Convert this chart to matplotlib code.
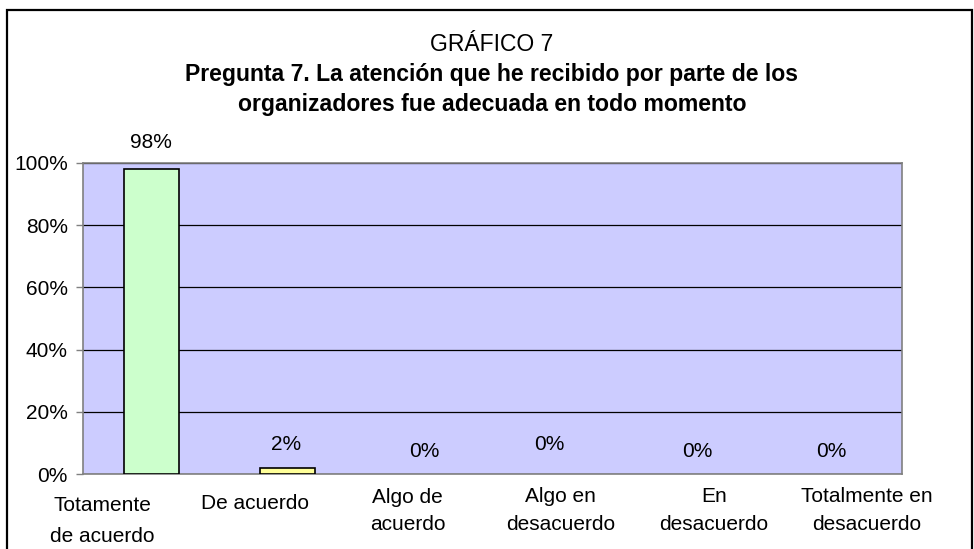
import matplotlib.pyplot as plt
from matplotlib.patches import Rectangle
from matplotlib.ticker import FuncFormatter

plt.rcParams['font.family'] = ['Liberation Sans', 'DejaVu Sans']

# Datos del gráfico
categorias = ["Totamente\nde acuerdo", "De acuerdo", "Algo de\nacuerdo",
              "Algo en\ndesacuerdo", "En\ndesacuerdo", "Totalmente en\ndesacuerdo"]
valores = [98, 2, 0, 0, 0, 0]
etiquetas = ["98%", "2%", "0%", "0%", "0%", "0%"]
colores = ["#CCFFCC", "#FFFF99", "#CCCCFF", "#CCCCFF", "#CCCCFF", "#CCCCFF"]

fig = plt.figure(figsize=(9.74, 5.49), dpi=100)
ax = fig.add_axes([0.0852, 0.1366, 0.8409, 0.5665])

# Marco exterior del gráfico
fig.patches.append(Rectangle((0.0072, -0.05), 0.991, 1.032, transform=fig.transFigure,
                             fill=False, edgecolor="black", linewidth=1.6))

ax.set_facecolor("#CCCCFF")
for i, v in enumerate(valores):
    if v > 0:
        ax.bar(i, v, width=0.4, color=colores[i], edgecolor="black", linewidth=1.2, zorder=3)

ax.set_xlim(-0.5, len(categorias) - 0.5)
ax.set_ylim(0, 100)
ax.set_yticks(range(0, 101, 20))
ax.yaxis.set_major_formatter(FuncFormatter(lambda v, p: f"{int(v)}%"))
ax.grid(axis="y", color="black", linewidth=0.9, zorder=1)
ax.tick_params(axis="y", labelsize=15, length=5, width=1, color="#808080", pad=6)
for s in ax.spines.values():
    s.set_color("#808080")
    s.set_linewidth(1.2)

# Etiquetas de categoría: en el original quedan algo más abiertas que las barras
ax.set_xticks([])
desfases = [-16, -14.5, -10, -9, -9, -9]
interlineado = [1.8, 1.6, 1.55, 1.6, 1.6, 1.6]
for i, c in enumerate(categorias):
    xpos = -0.36 + 1.12 * i
    ax.annotate(c, (xpos, 0), xytext=(0, desfases[i]), textcoords="offset points",
                ha="center", va="top", fontsize=15, linespacing=interlineado[i],
                annotation_clip=False)

# Etiquetas de valor
extra_y = [12.5, 10, 9.5, 14.5, 9.5, 9.5]
extra_x = [0, -1, 0, -8, 0, -2]
for i, v in enumerate(valores):
    ax.annotate(etiquetas[i], (i, v), xytext=(extra_x[i], extra_y[i]), textcoords="offset points",
                ha="center", va="bottom", fontsize=15, annotation_clip=False)

fig.text(0.505, 0.919, "GRÁFICO 7", ha="center", va="center", fontsize=16.5)
fig.text(0.505, 0.837, "Pregunta 7. La atención que he recibido por parte de los\n"
         "organizadores fue adecuada en todo momento",
         ha="center", va="center", fontsize=16.6, fontweight="bold", linespacing=1.4)

fig.savefig("out.png", dpi=100)
